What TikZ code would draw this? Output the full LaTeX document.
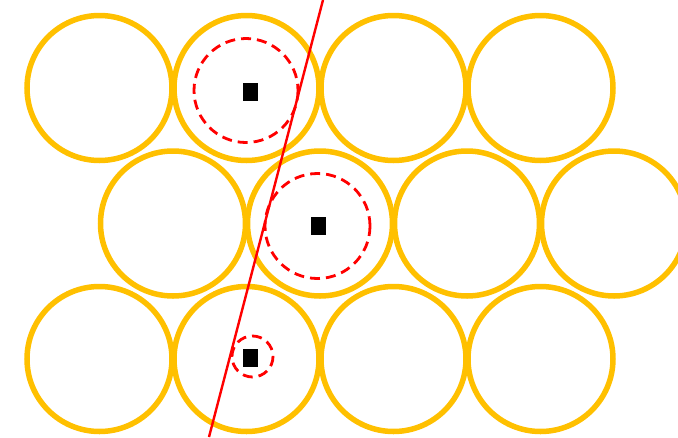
\documentclass[tikz,border=0pt]{standalone}
\usepackage{tikz}
\definecolor{disc}{HTML}{FFC000}
\tikzset{
  grain/.style={draw=disc, line width=5.5pt, circle, minimum size=145pt, inner sep=0pt},
  zone/.style={draw=red, line width=2.8pt, dash pattern=on 10pt off 6pt},
  seed/.style={fill=black, minimum width=15pt, minimum height=18pt, inner sep=0pt}
}
\begin{document}
\begin{tikzpicture}[x=1pt, y=-1pt]
    \useasboundingbox (0,0) rectangle (678,437);
    \clip (0,0) rectangle (678,437);
    % packed grains
    \foreach \i/\x in {1/99.5, 2/246.5, 3/393.5, 4/540.5} {
      \node[grain] (a\i) at (\x,88) {};
      \node[grain] (c\i) at (\x,359) {};
    }
    \foreach \i/\x in {1/173, 2/320, 3/467, 4/614}
      \node[grain] (b\i) at (\x,223.5) {};
    % dashed zones and seeds
    \draw[zone] (246,90.5) circle (52);
    \draw[zone] (317.5,226) circle (52.5);
    \draw[zone] (252.5,356.5) circle (20.5);
    \node[seed] (s1) at (250.5,91.5) {};
    \node[seed] (s2) at (318.5,225.5) {};
    \node[seed] (s3) at (250,357.5) {};
    % cut line
    \coordinate (top) at (323,0);
    \coordinate (bot) at (209,437);
    \draw[red, line width=2.4pt] (top) -- (bot);
\end{tikzpicture}
\end{document}
